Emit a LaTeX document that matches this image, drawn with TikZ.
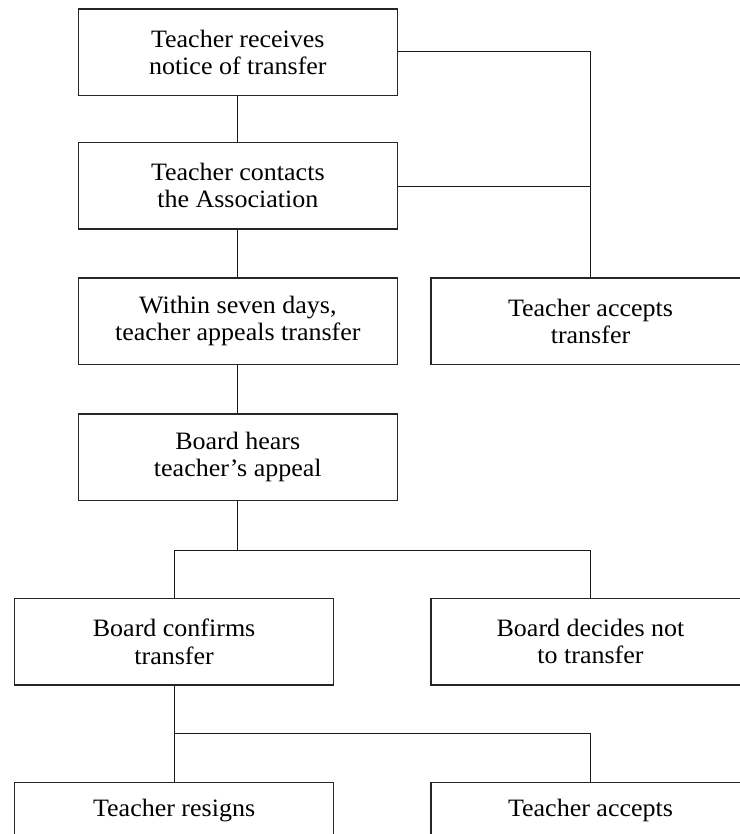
\documentclass[tikz,border=0pt]{standalone}
\usepackage{fontspec}
\setmainfont{Liberation Serif}[FakeStretch=1.04]
\begin{document}
\begin{tikzpicture}[x=1pt,y=-1pt,
  box/.style={draw=black!85,line width=1.2pt,minimum width=319pt,minimum height=86.7pt,
    inner sep=0pt,align=center,font=\fontsize{25}{27.3}\selectfont,text=black},
  conn/.style={draw=black!90,line width=1pt}]
\useasboundingbox (0,0) rectangle (739,834);
\node[box] (b1) at (237.8,52.3) {Teacher receives\\notice of transfer};
\node[box] (b2) at (237.8,185.7) {Teacher contacts\\the Association};
\node[box] (b3) at (237.8,321.3) {Within seven days,\\teacher appeals transfer};
\node[box] (b5) at (590.5,321.3) {Teacher accepts\\transfer};
\node[box] (b4) at (237.8,457.3) {Board hears\\teacher’s appeal};
\node[box] (b6) at (174.1,641.7) {Board confirms\\transfer};
\node[box] (b7) at (590.5,641.7) {Board decides not\\to transfer};
\node[box] (b8) at (174.1,825.7) {Teacher resigns\\\strut};
\node[box] (b9) at (590.5,825.7) {Teacher accepts\\\strut};
\coordinate (j1) at (590.5,51.7);
\coordinate (j2) at (590.5,186.3);
\coordinate (j3) at (237.8,550.3);
\coordinate (j4) at (174.1,733.7);
\draw[conn] (b1) -- (b2);
\draw[conn] (b2) -- (b3);
\draw[conn] (b3) -- (b4);
\draw[conn] (b1.east |- j1) -- (j1) -- (b5.north);
\draw[conn] (b2.east |- j2) -- (j2);
\draw[conn] (b4.south) -- (j3);
\draw[conn] (b6.north) -- (b6.north |- j3) -- (b7.north |- j3) -- (b7.north);
\draw[conn] (b6.south) -- (b8.north);
\draw[conn] (j4) -- (b9.north |- j4) -- (b9.north);
\end{tikzpicture}
\end{document}
